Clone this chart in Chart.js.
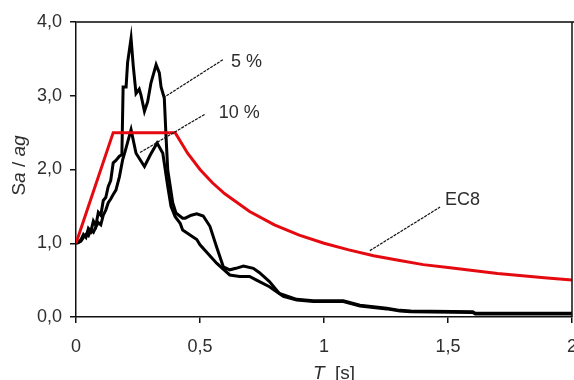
<!DOCTYPE html>
<html>
<head>
<meta charset="utf-8">
<script src="https://cdn.jsdelivr.net/npm/chart.js@4.4.1/dist/chart.umd.min.js"></script>
<style>
  html, body { margin: 0; padding: 0; background: #fff; }
  #wrap { width: 574px; height: 380px; }
</style>
</head>
<body>
<div id="wrap"><canvas id="spectrum"></canvas></div>
<script>
// response spectra, 5 % and 10 % damping, against the EC8 design spectrum
const periods5 = [0, 0.01, 0.02, 0.03, 0.04, 0.05, 0.06, 0.07, 0.08, 0.09, 0.10, 0.11, 0.12, 0.13, 0.14, 0.15, 0.16, 0.175, 0.185, 0.19, 0.202, 0.208, 0.222, 0.231, 0.242, 0.255, 0.262, 0.276, 0.289, 0.302, 0.323, 0.336, 0.343, 0.356, 0.363, 0.37, 0.376, 0.39, 0.403, 0.43, 0.44, 0.465, 0.487, 0.513, 0.54, 0.567, 0.594, 0.62, 0.645, 0.675, 0.715, 0.74, 0.78, 0.82, 0.89, 0.957, 1.078, 1.145, 1.253, 1.306, 1.35, 1.6, 1.61, 2.0];
const sa5 = [1.00, 1.02, 1.05, 1.12, 1.08, 1.20, 1.16, 1.30, 1.24, 1.42, 1.38, 1.58, 1.62, 1.77, 1.85, 2.09, 2.12, 2.18, 2.20, 3.12, 3.12, 3.45, 3.78, 3.40, 3.03, 3.09, 3.01, 2.79, 2.92, 3.17, 3.42, 3.31, 3.12, 2.97, 2.45, 1.99, 1.86, 1.55, 1.41, 1.34, 1.34, 1.38, 1.40, 1.37, 1.23, 0.95, 0.68, 0.64, 0.66, 0.69, 0.66, 0.60, 0.48, 0.32, 0.24, 0.22, 0.22, 0.16, 0.12, 0.09, 0.08, 0.07, 0.05, 0.05];

const periods10 = [0, 0.01, 0.02, 0.03, 0.04, 0.05, 0.06, 0.07, 0.08, 0.09, 0.10, 0.11, 0.12, 0.13, 0.14, 0.15, 0.161, 0.175, 0.188, 0.20, 0.222, 0.242, 0.276, 0.30, 0.327, 0.35, 0.37, 0.383, 0.40, 0.42, 0.43, 0.487, 0.50, 0.567, 0.62, 0.66, 0.70, 0.728, 0.78, 0.836, 0.89, 0.957, 1.078, 1.145, 1.253, 1.306, 1.35, 1.6, 1.61, 2.0];
const sa10 = [1.00, 1.01, 1.03, 1.08, 1.12, 1.10, 1.18, 1.15, 1.22, 1.28, 1.25, 1.38, 1.45, 1.55, 1.60, 1.66, 1.72, 1.90, 2.13, 2.27, 2.54, 2.22, 2.04, 2.20, 2.36, 2.22, 1.77, 1.50, 1.36, 1.27, 1.18, 1.05, 0.98, 0.73, 0.57, 0.55, 0.55, 0.50, 0.41, 0.28, 0.23, 0.21, 0.21, 0.15, 0.11, 0.08, 0.07, 0.06, 0.04, 0.04];

const periodsEC8 = [0, 0.15, 0.40, 0.45, 0.50, 0.55, 0.60, 0.70, 0.80, 0.90, 1.00, 1.10, 1.20, 1.30, 1.40, 1.50, 1.60, 1.70, 1.80, 1.90, 2.00];
const saEC8 = [1.00, 2.50, 2.50, 2.22, 2.00, 1.82, 1.67, 1.43, 1.25, 1.11, 1.00, 0.91, 0.83, 0.77, 0.71, 0.67, 0.63, 0.59, 0.56, 0.53, 0.50];

const xTicks = [0, 0.5, 1, 1.5, 2];
const yTicks = [0, 1, 2, 3, 4];

// curve labels with their leader lines, in data units (T, Sa/ag)
const callouts = [
  { text: '5 %',  from: [0.351, 2.97], to: [0.593, 3.49], at: [0.625, 3.46] },
  { text: '10 %', from: [0.258, 2.23], to: [0.520, 2.75], at: [0.576, 2.77] },
  { text: 'EC8',  from: [1.185, 0.90], to: [1.468, 1.49], at: [1.488, 1.59] }
];

const FONT = '"Liberation Sans", Arial, sans-serif';
const TEXT = '#2e2e2e';

const pts = (xs, ys) => xs.map((x, i) => ({ x: x, y: ys[i] }));
const comma = v => String(v).replace('.', ',');

const calloutPlugin = {
  id: 'callouts',
  afterDatasetsDraw(chart) {
    const { ctx, scales: { x, y } } = chart;
    ctx.save();
    ctx.strokeStyle = '#111';
    ctx.lineWidth = 1.2;
    ctx.setLineDash([3, 1]);
    callouts.forEach(c => {
      ctx.beginPath();
      ctx.moveTo(x.getPixelForValue(c.from[0]), y.getPixelForValue(c.from[1]));
      ctx.lineTo(x.getPixelForValue(c.to[0]), y.getPixelForValue(c.to[1]));
      ctx.stroke();
    });
    ctx.setLineDash([]);
    ctx.fillStyle = TEXT;
    ctx.font = '18px ' + FONT;
    ctx.textAlign = 'left';
    ctx.textBaseline = 'middle';
    callouts.forEach(c => {
      ctx.fillText(c.text, x.getPixelForValue(c.at[0]), y.getPixelForValue(c.at[1]));
    });
    ctx.restore();
  }
};

// top/right frame and the two axis titles (mixed italic text)
const framePlugin = {
  id: 'frame',
  afterDraw(chart) {
    const { ctx, chartArea: a } = chart;
    ctx.save();
    ctx.strokeStyle = '#444';
    ctx.lineWidth = 2;
    ctx.beginPath();
    ctx.moveTo(a.left, a.top);
    ctx.lineTo(chart.width, a.top);
    ctx.stroke();
    ctx.lineWidth = 1.5;
    ctx.strokeStyle = '#111';
    ctx.beginPath();
    ctx.moveTo(a.right, a.top);
    ctx.lineTo(a.right, a.bottom);
    ctx.stroke();

    const drawParts = (parts, cx, cy) => {
      let w = 0;
      parts.forEach(p => { ctx.font = p[1] + ' 19px ' + FONT; w += ctx.measureText(p[0]).width; });
      let px = cx - w / 2;
      parts.forEach(p => {
        ctx.font = p[1] + ' 19px ' + FONT;
        ctx.fillText(p[0], px, cy);
        px += ctx.measureText(p[0]).width;
      });
    };
    ctx.fillStyle = TEXT;
    ctx.textAlign = 'left';
    ctx.textBaseline = 'middle';
    drawParts([['T', 'italic'], ['  [s]', 'normal']], (a.left + a.right) / 2 + 10, chart.height - 6);

    ctx.translate(20, (a.top + a.bottom) / 2 - 4);
    ctx.rotate(-Math.PI / 2);
    drawParts([['S', 'normal'], ['a', 'italic'], [' / ', 'normal'], ['ag', 'italic']], 0, 0);
    ctx.restore();
  }
};

new Chart(document.getElementById('spectrum'), {
  type: 'line',
  data: {
    datasets: [
      { label: 'EC8', data: pts(periodsEC8, saEC8), borderColor: 'rgb(228,10,16)', borderWidth: 3 },
      { label: '10 %', data: pts(periods10, sa10), borderColor: '#000', borderWidth: 3 },
      { label: '5 %', data: pts(periods5, sa5), borderColor: '#000', borderWidth: 3 }
    ]
  },
  options: {
    responsive: true,
    maintainAspectRatio: false,
    animation: false,
    layout: { padding: { top: 22, right: 2, left: 0, bottom: 0 } },
    elements: { point: { radius: 0 }, line: { tension: 0, borderJoinStyle: 'miter' } },
    plugins: { legend: { display: false }, tooltip: { enabled: false } },
    scales: {
      x: {
        type: 'linear',
        min: 0,
        max: 2,
        afterBuildTicks: s => { s.ticks = xTicks.map(v => ({ value: v })); },
        // last tick label may run past the canvas edge
        afterFit: s => { s.height = 63; s.paddingLeft = 0; s.paddingRight = 0; },
        grid: { drawOnChartArea: false, tickLength: 6, color: '#111', lineWidth: 1.5 },
        border: { color: '#111', width: 1.5 },
        ticks: { padding: 13, color: TEXT, font: { family: FONT, size: 18 }, maxRotation: 0, callback: v => comma(v) }
      },
      y: {
        min: 0,
        max: 4,
        afterBuildTicks: s => { s.ticks = yTicks.map(v => ({ value: v })); },
        afterFit: s => { s.width = 76; s.paddingTop = 0; s.paddingBottom = 0; },
        grid: { drawOnChartArea: false, tickLength: 6, color: '#111', lineWidth: 1.5 },
        border: { color: '#111', width: 1.5 },
        ticks: { padding: 8, color: TEXT, font: { family: FONT, size: 18 }, callback: v => comma(v.toFixed(1)) }
      }
    }
  },
  plugins: [calloutPlugin, framePlugin]
});
</script>
</body>
</html>
